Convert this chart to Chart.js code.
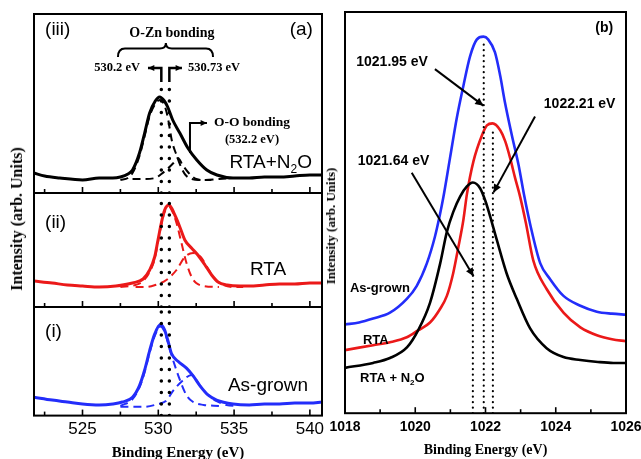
<!DOCTYPE html>
<html>
<head>
<meta charset="utf-8">
<script src="https://cdn.jsdelivr.net/npm/chart.js@4.4.0/dist/chart.umd.min.js"></script>
<style>
  html, body { margin: 0; padding: 0; background: #fff; overflow: hidden; }
  #wrap { position: relative; width: 641px; height: 459px; overflow: hidden; }
  canvas { position: absolute; }
  .ytitle { position: absolute; white-space: nowrap; font-family: "Liberation Serif", serif; font-weight: bold; color: #000;
            transform: translate(-50%, -50%) rotate(-90deg); }
</style>
</head>
<body>
<div id="wrap">
  <canvas id="c3" width="330" height="200" style="left:0;top:0"></canvas>
  <canvas id="c2" width="330" height="128" style="left:0;top:186px"></canvas>
  <canvas id="c1" width="330" height="162" style="left:0;top:300px"></canvas>
  <canvas id="cb" width="340" height="459" style="left:320px;top:0"></canvas>
  <div class="ytitle" style="left:17px;top:219px;font-size:16px">Intensity (arb. Units)</div>
  <div class="ytitle" style="left:331px;top:226px;font-size:13px">Intensity (arb. Units)</div>
</div>
<script>
// ---- panel (a): O 1s spectra, [binding energy eV, intensity a.u.] ----
const rtaN2oO1s = [[521.8,20],[522.5,17],[523.5,15],[525,13],[526.1,15],[527,15],[527.5,16],[528,19],[528.3,23],[528.76,40],[529.1,60],[529.43,80],[529.8,92],[530.09,96],[530.4,92],[530.62,86],[530.95,73],[531.42,60],[531.95,45],[532.54,33],[533.2,23],[533.87,18],[534.93,15],[536,15],[537,16],[538,16],[539,17],[540,18],[540.8,18]];
const rtaN2oFitZn = [[527.5,13],[528,15],[528.3,20],[528.76,37],[529.1,57],[529.43,77],[529.8,89],[530.09,93],[530.4,88],[530.62,76],[530.9,52],[531.2,38],[531.5,26],[531.8,18],[532.2,14],[532.8,13],[533.5,13]];
const rtaN2oFitOO = [[528.3,14],[529,14],[529.8,15],[530.2,19],[530.6,24],[531,30],[531.3,35],[531.6,28],[531.95,21],[532.2,17],[532.5,14],[533,13],[534,14],[534.9,15]];

const rtaO1s = [[521.8,26],[523,24],[524,22],[525,21],[526.1,20],[527.2,21],[528.3,24],[529,28],[529.43,37],[529.76,50],[529.98,67],[530.2,84],[530.42,97],[530.71,102],[531.09,92],[531.42,80],[531.75,67],[532.19,59],[532.61,52],[533.08,42],[533.52,32],[533.94,25],[534.54,22],[535.4,21],[536,21],[537,22],[538,23],[539,23],[540,24],[540.8,24]];
const rtaFitZn = [[527.5,20],[528.5,22],[529,26],[529.43,35],[529.76,48],[529.98,65],[530.2,82],[530.42,95],[530.71,100],[531,93],[531.2,84],[531.53,64],[531.86,44],[532.2,30],[532.5,24],[533,21],[534,20]];
const rtaFitOO = [[528.5,20],[529.2,20],[529.8,22],[530.53,27],[531.2,37],[531.75,50],[532.3,54],[532.8,50],[533.3,38],[533.8,27],[534.3,22],[535,20],[535.6,20]];

const asGrownO1s = [[521.8,19],[523,16],[524,14],[525,12],[526.1,11],[527,12],[527.63,14],[528.3,19],[528.76,31],[529.1,47],[529.43,67],[529.76,84],[530.14,94],[530.4,89],[530.64,77],[530.87,64],[531.3,56],[531.86,49],[532.3,41],[532.74,31],[533.3,21],[533.85,16],[534.93,12],[536,11],[537,12],[538,12],[539,13],[540,13],[540.8,14]];
const asGrownFitZn = [[527.5,10],[528.3,17],[528.76,29],[529.1,45],[529.43,65],[529.76,82],[530.14,92],[530.4,87],[530.64,75],[530.98,57],[531.42,37],[531.86,21],[532.3,14],[533,11],[534,10]];
const asGrownFitOO = [[527.5,9],[529,9],[530,12],[530.5,15],[531,26],[531.6,36],[532.2,42],[532.74,31],[533.3,21],[533.85,15],[534.5,11],[535.2,10]];

const o1sPeaks = [530.2, 530.73];
const aTickLabels = [525, 530, 535, 540];
const aMinorTicks = [522.5, 527.5, 532.5, 537.5];

// ---- panel (b): Zn 2p3/2 spectra ----
const asGrownZn = [[1018,90],[1018.4,92],[1018.8,96],[1019.28,102],[1019.76,116],[1020.04,129],[1020.33,152],[1020.56,179],[1020.7,201],[1020.8,219],[1020.99,259],[1021.18,299],[1021.37,332],[1021.56,362],[1021.75,379],[1021.94,382],[1022.08,379],[1022.27,366],[1022.42,342],[1022.55,316],[1022.75,282],[1022.94,252],[1023.1,221],[1023.27,192],[1023.56,152],[1023.84,136],[1024.22,119],[1024.7,109],[1025.17,103],[1025.6,101],[1026,100]];
const rtaZn = [[1018,64],[1018.8,69],[1019.28,72],[1019.76,77],[1020.08,84],[1020.42,92],[1020.71,106],[1020.9,119],[1021.08,142],[1021.23,169],[1021.37,196],[1021.47,222],[1021.66,256],[1021.9,282],[1022.04,292],[1022.2,294],[1022.42,287],[1022.56,276],[1022.7,259],[1022.84,239],[1022.99,219],[1023.15,193],[1023.36,155],[1023.74,126],[1024.22,102],[1024.7,87],[1025.17,79],[1025.6,75],[1026,73]];
const rtaN2oZn = [[1018,46],[1018.8,51],[1019.28,56],[1019.77,67],[1020.08,84],[1020.42,112],[1020.71,152],[1020.9,184],[1021.08,204],[1021.28,220],[1021.47,230],[1021.64,234],[1021.85,228],[1022,215],[1022.13,200],[1022.32,176],[1022.6,142],[1022.89,116],[1023.27,86],[1023.74,66],[1024.22,57],[1024.7,54],[1025.2,52],[1025.64,51],[1026,51]];
const zn2pPeaks = [[1021.64,227],[1021.95,378],[1022.21,290]];
const bTickLabels = [1018, 1020, 1022, 1024, 1026];
const bMinorTicks = [1019, 1021, 1023, 1025];

const BLACK = '#000';
const RED = 'rgb(235,25,25)';
const BLUE = 'rgb(35,45,250)';
const SERIF = '"Liberation Serif", serif';
const SANS = '"Liberation Sans", Arial, sans-serif';

const pts = arr => arr.map(([x, y]) => ({ x, y }));

function spectrum(data, color, w) {
  return { data: pts(data), borderColor: color, borderWidth: w, pointRadius: 0,
           cubicInterpolationMode: 'monotone', fill: false };
}
function fit(data, color) {
  return { data: pts(data), borderColor: color, borderWidth: 2, borderDash: [8, 5], pointRadius: 0,
           cubicInterpolationMode: 'monotone', fill: false };
}
function dotted(x, top, w, gap) {
  return { data: [{ x, y: 0 }, { x, y: top }], borderColor: BLACK, borderWidth: w,
           borderDash: [0, gap], borderCapStyle: 'round', pointRadius: 0, fill: false };
}

function text(ctx, s, x, y, font, align) {
  ctx.font = font;
  ctx.textAlign = align || 'left';
  ctx.textBaseline = 'middle';
  ctx.fillStyle = BLACK;
  ctx.fillText(s, x, y);
}
// text with a subscript part, e.g. N2O
function subText(ctx, pre, sub, post, x, y, size, weight, align) {
  const f = weight + ' ' + size + 'px ' + SANS;
  const fs = weight + ' ' + Math.round(size * 0.65) + 'px ' + SANS;
  ctx.font = f; const w1 = ctx.measureText(pre).width, w3 = ctx.measureText(post).width;
  ctx.font = fs; const w2 = ctx.measureText(sub).width;
  let x0 = x;
  if (align === 'right') x0 = x - (w1 + w2 + w3);
  if (align === 'center') x0 = x - (w1 + w2 + w3) / 2;
  text(ctx, pre, x0, y, f, 'left');
  text(ctx, sub, x0 + w1, y + size * 0.35, fs, 'left');
  text(ctx, post, x0 + w1 + w2, y, f, 'left');
}
function arrow(ctx, path, head) {
  ctx.beginPath();
  ctx.moveTo(path[0][0], path[0][1]);
  for (let i = 1; i < path.length; i++) ctx.lineTo(path[i][0], path[i][1]);
  ctx.stroke();
  const [x1, y1] = path[path.length - 2], [x2, y2] = path[path.length - 1];
  const a = Math.atan2(y2 - y1, x2 - x1);
  ctx.beginPath();
  ctx.moveTo(x2, y2);
  ctx.lineTo(x2 - head * Math.cos(a - 0.45), y2 - head * Math.sin(a - 0.45));
  ctx.lineTo(x2 - head * Math.cos(a + 0.45), y2 - head * Math.sin(a + 0.45));
  ctx.closePath();
  ctx.fill();
}

// frame, inward bottom ticks and annotations
function deco(major, minor, draw) {
  return {
    id: 'deco',
    afterDatasetsDraw(chart) {
      const { ctx, chartArea: a } = chart;
      const sx = chart.scales.x, sy = chart.scales.y;
      const P = (x, y) => [sx.getPixelForValue(x), sy.getPixelForValue(y)];
      ctx.save();
      ctx.strokeStyle = BLACK;
      ctx.fillStyle = BLACK;
      ctx.lineWidth = 1.6;
      const tick = (v, len) => {
        const x = sx.getPixelForValue(v);
        ctx.beginPath(); ctx.moveTo(x, a.bottom); ctx.lineTo(x, a.bottom - len); ctx.stroke();
      };
      major.forEach(v => tick(v, 6));
      minor.forEach(v => tick(v, 4));
      ctx.lineWidth = 2;
      ctx.strokeRect(a.left, a.top, a.right - a.left, a.bottom - a.top);
      if (draw) draw(ctx, P);
      ctx.restore();
    }
  };
}

function aChart(id, height, padTop, padBottom, datasets, showAxis, draw) {
  new Chart(document.getElementById(id), {
    type: 'line',
    data: { datasets },
    options: {
      responsive: false, animation: false, events: [],
      layout: { padding: { left: 34, right: 8, top: padTop, bottom: padBottom } },
      plugins: { legend: { display: false }, tooltip: { enabled: false } },
      scales: {
        x: {
          type: 'linear', min: 521.8, max: 540.8, display: showAxis,
          afterBuildTicks: s => { s.ticks = aTickLabels.map(v => ({ value: v })); },
          grid: { display: false, drawTicks: false }, border: { display: false },
          ticks: { color: BLACK, padding: 4, font: { family: SANS, size: 17 }, callback: v => String(v) },
          title: { display: true, text: 'Binding Energy (eV)', color: BLACK, padding: { top: 2, bottom: 0 },
                   font: { family: SERIF, size: 15, weight: 'bold', lineHeight: 1 } }
        },
        y: { min: 0, max: height, display: false }
      }
    },
    plugins: [deco(aTickLabels, aMinorTicks, draw)]
  });
}

// (iii) RTA + N2O
aChart('c3', 179, 14, 7, [
  dotted(o1sPeaks[0], 111, 3.5, 11.5), dotted(o1sPeaks[1], 111, 3.5, 11.5),
  spectrum(rtaN2oO1s, BLACK, 3), fit(rtaN2oFitZn, BLACK), fit(rtaN2oFitOO, BLACK)
], false, (ctx, P) => {
  let p = P(522.53, 163); text(ctx, '(iii)', p[0], p[1], '19px ' + SANS, 'left');
  p = P(540.2, 163); text(ctx, '(a)', p[0], p[1], '19px ' + SANS, 'right');
  p = P(530.9, 160); text(ctx, 'O-Zn bonding', p[0], p[1], 'bold 14px ' + SERIF, 'center');
  // brace
  const [xl, yE] = P(527.34, 136), [xm, yF] = P(530.5, 144.5), [xr] = P(533.61, 136), yT = P(0, 150)[1];
  ctx.lineWidth = 2;
  ctx.beginPath();
  ctx.moveTo(xl, yE);
  ctx.quadraticCurveTo(xl, yF, xl + 7, yF);
  ctx.lineTo(xm - 6, yF);
  ctx.quadraticCurveTo(xm, yF, xm, yT);
  ctx.quadraticCurveTo(xm, yF, xm + 6, yF);
  ctx.lineTo(xr - 7, yF);
  ctx.quadraticCurveTo(xr, yF, xr, yE);
  ctx.stroke();
  p = P(528.79, 125); text(ctx, '530.2 eV', p[0], p[1], 'bold 12.5px ' + SERIF, 'right');
  p = P(531.96, 125); text(ctx, '530.73 eV', p[0], p[1], 'bold 12.5px ' + SERIF, 'left');
  ctx.lineWidth = 2.5;
  arrow(ctx, [P(o1sPeaks[0], 111), P(o1sPeaks[0], 125), P(529.32, 125)], 7);
  arrow(ctx, [P(o1sPeaks[1], 111), P(o1sPeaks[1], 125), P(531.56, 125)], 7);
  ctx.lineWidth = 2;
  arrow(ctx, [P(532.09, 40), P(532.09, 70), P(533.21, 70)], 7);
  p = P(536.18, 70); text(ctx, 'O-O bonding', p[0], p[1], 'bold 13.5px ' + SERIF, 'center');
  p = P(536.18, 53); text(ctx, '(532.2 eV)', p[0], p[1], 'bold 12.5px ' + SERIF, 'center');
  p = P(540.14, 30); subText(ctx, 'RTA+N', '2', 'O', p[0], p[1], 19, 'normal', 'right');
});

// (ii) RTA
aChart('c2', 114, 7, 7, [
  dotted(o1sPeaks[0], 114, 3.5, 11.5), dotted(o1sPeaks[1], 114, 3.5, 11.5),
  spectrum(rtaO1s, RED, 3), fit(rtaFitZn, RED), fit(rtaFitOO, RED)
], false, (ctx, P) => {
  let p = P(522.53, 84); text(ctx, '(ii)', p[0], p[1], '19px ' + SANS, 'left');
  p = P(537.24, 37); text(ctx, 'RTA', p[0], p[1], '19px ' + SANS, 'center');
});

// (i) As-grown
aChart('c1', 112, 7, 1, [
  dotted(o1sPeaks[0], 112, 3.5, 11.5), dotted(o1sPeaks[1], 112, 3.5, 11.5),
  spectrum(asGrownO1s, BLUE, 3), fit(asGrownFitZn, BLUE), fit(asGrownFitOO, BLUE)
], true, (ctx, P) => {
  let p = P(522.53, 86); text(ctx, '(i)', p[0], p[1], '19px ' + SANS, 'left');
  p = P(537.24, 31); text(ctx, 'As-grown', p[0], p[1], '19px ' + SANS, 'center');
});

// (b) Zn 2p
new Chart(document.getElementById('cb'), {
  type: 'line',
  data: {
    datasets: [
      ...zn2pPeaks.map(([x, top]) => dotted(x, top, 2.2, 5.5)),
      spectrum(rtaN2oZn, BLACK, 2.6),
      spectrum(rtaZn, RED, 2.6),
      spectrum(asGrownZn, BLUE, 2.6)
    ]
  },
  options: {
    responsive: false, animation: false, events: [],
    layout: { padding: { left: 25, right: 34, top: 12, bottom: 2 } },
    plugins: { legend: { display: false }, tooltip: { enabled: false } },
    scales: {
      x: {
        type: 'linear', min: 1018, max: 1026,
        afterBuildTicks: s => { s.ticks = bTickLabels.map(v => ({ value: v })); },
        grid: { display: false, drawTicks: false }, border: { display: false },
        ticks: { color: BLACK, padding: 6, font: { family: SANS, size: 14, weight: 'bold' }, callback: v => String(v) },
        title: { display: true, text: 'Binding Energy (eV)', color: BLACK, padding: { top: 1, bottom: 0 },
                 font: { family: SERIF, size: 14, weight: 'bold', lineHeight: 1 } }
      },
      y: { min: 0, max: 407, display: false }
    }
  },
  plugins: [deco(bTickLabels, bMinorTicks, (ctx, P) => {
    const B = 'bold 14px ' + SANS, B13 = 'bold 13px ' + SANS;
    let p = P(1025.38, 391); text(ctx, '(b)', p[0], p[1], B, 'center');
    ctx.lineWidth = 2;
    p = P(1019.34, 356); text(ctx, '1021.95 eV', p[0], p[1], B, 'center');
    arrow(ctx, [P(1020.56, 349), P(1021.94, 312)], 9);
    p = P(1024.68, 314); text(ctx, '1022.21 eV', p[0], p[1], B, 'center');
    arrow(ctx, [P(1023.41, 301), P(1022.23, 224)], 9);
    p = P(1019.38, 256); text(ctx, '1021.64 eV', p[0], p[1], B, 'center');
    arrow(ctx, [P(1019.9, 244), P(1021.66, 139)], 9);
    p = P(1018.14, 127); text(ctx, 'As-grown', p[0], p[1], B13, 'left');
    p = P(1018.51, 74); text(ctx, 'RTA', p[0], p[1], B13, 'left');
    p = P(1018.43, 35); subText(ctx, 'RTA + N', '2', 'O', p[0], p[1], 13, 'bold', 'left');
  })]
});
</script>
</body>
</html>
